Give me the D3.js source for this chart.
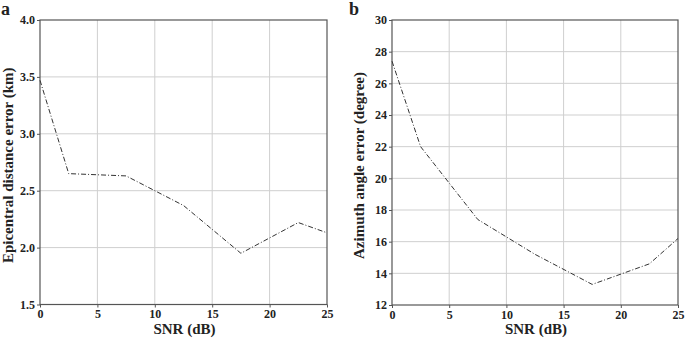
<!DOCTYPE html>
<html>
<head>
<meta charset="utf-8">
<script src="https://cdn.jsdelivr.net/npm/d3@7"></script>
<style>
  body { margin: 0; background: #fff; }
  svg text { font-family: 'Liberation Serif', 'DejaVu Serif', serif; font-weight: bold; fill: #222; }
</style>
</head>
<body>
<div id="chart"></div>
<script>
// SNR values (dB)
const snr = [0, 2.5, 7.5, 12.5, 17.5, 22.5, 25];
// panel a: epicentral distance error (km)
const distErr = [3.47, 2.65, 2.63, 2.37, 1.95, 2.22, 2.13];
// panel b: azimuth angle error (degree)
const azErr = [27.4, 22.0, 17.4, 15.2, 13.3, 14.6, 16.2];

const xTicks = [0, 5, 10, 15, 20, 25];
const distTicks = [1.5, 2.0, 2.5, 3.0, 3.5, 4.0];
const azTicks = [12, 14, 16, 18, 20, 22, 24, 26, 28, 30];

const W = 685, H = 340;
const FONT = "'Liberation Serif', 'DejaVu Serif', serif";
const svg = d3.select('#chart').append('svg')
  .attr('width', W).attr('height', H);

function panel(opts){
  const x = d3.scaleLinear().domain([0, 25]).range([opts.left, opts.right]);
  const y = d3.scaleLinear().domain(opts.yDomain).range([opts.bottom, opts.top]);
  const g = svg.append('g');

  // grid
  g.append('g').selectAll('line')
    .data(xTicks.slice(1, -1))
    .join('line')
    .attr('x1', d => x(d)).attr('x2', d => x(d))
    .attr('y1', opts.top).attr('y2', opts.bottom)
    .attr('stroke', '#cfcfcf').attr('stroke-width', 1);
  g.append('g').selectAll('line')
    .data(opts.yTicks.slice(1, -1))
    .join('line')
    .attr('x1', opts.left).attr('x2', opts.right)
    .attr('y1', d => y(d)).attr('y2', d => y(d))
    .attr('stroke', '#cfcfcf').attr('stroke-width', 1);

  // frame
  g.append('rect')
    .attr('x', opts.left).attr('y', opts.top)
    .attr('width', opts.right - opts.left).attr('height', opts.bottom - opts.top)
    .attr('fill', 'none').attr('stroke', '#555').attr('stroke-width', 1.2);

  // axes
  const xAxis = g.append('g')
    .attr('transform', `translate(0,${opts.bottom})`)
    .call(d3.axisBottom(x).tickValues(xTicks).tickSize(3).tickPadding(2));
  xAxis.attr('font-family', FONT);
  xAxis.select('.domain').remove();
  xAxis.selectAll('line').attr('stroke', '#555');
  xAxis.selectAll('text').attr('font-size', 12).attr('fill', '#222');

  const yAxis = g.append('g')
    .attr('transform', `translate(${opts.left},0)`)
    .call(d3.axisLeft(y).tickValues(opts.yTicks).tickFormat(opts.fmt).tickSize(3).tickPadding(2));
  yAxis.attr('font-family', FONT);
  yAxis.select('.domain').remove();
  yAxis.selectAll('line').attr('stroke', '#555');
  yAxis.selectAll('text').attr('font-size', 12).attr('fill', '#222');

  // line
  const line = d3.line().x((d, i) => x(snr[i])).y(d => y(d));
  g.append('path')
    .datum(opts.values)
    .attr('d', line)
    .attr('fill', 'none')
    .attr('stroke', '#333')
    .attr('stroke-width', 1)
    .attr('stroke-dasharray', '5,2,1,2');

  // titles
  g.append('text')
    .attr('x', (opts.left + opts.right) / 2 + 1).attr('y', 334)
    .attr('text-anchor', 'middle').attr('font-size', 15)
    .text('SNR (dB)');
  g.append('text')
    .attr('transform', `translate(${opts.titleX},${(opts.top + opts.bottom) / 2 + 3}) rotate(-90)`)
    .attr('text-anchor', 'middle').attr('font-size', 15)
    .text(opts.yTitle);
  g.append('text')
    .attr('x', opts.letterX).attr('y', 15)
    .attr('font-size', 18)
    .text(opts.letter);
}

panel({
  left: 40, right: 327, top: 20, bottom: 304.5,
  yDomain: [1.5, 4.0], yTicks: distTicks, fmt: d3.format('.1f'),
  values: distErr, yTitle: 'Epicentral distance error (km)',
  titleX: 13, letter: 'a', letterX: 1
});
panel({
  left: 392, right: 678, top: 20, bottom: 305,
  yDomain: [12, 30], yTicks: azTicks, fmt: d3.format('d'),
  values: azErr, yTitle: 'Azimuth angle error (degree)',
  titleX: 364, letter: 'b', letterX: 349
});
</script>
</body>
</html>
